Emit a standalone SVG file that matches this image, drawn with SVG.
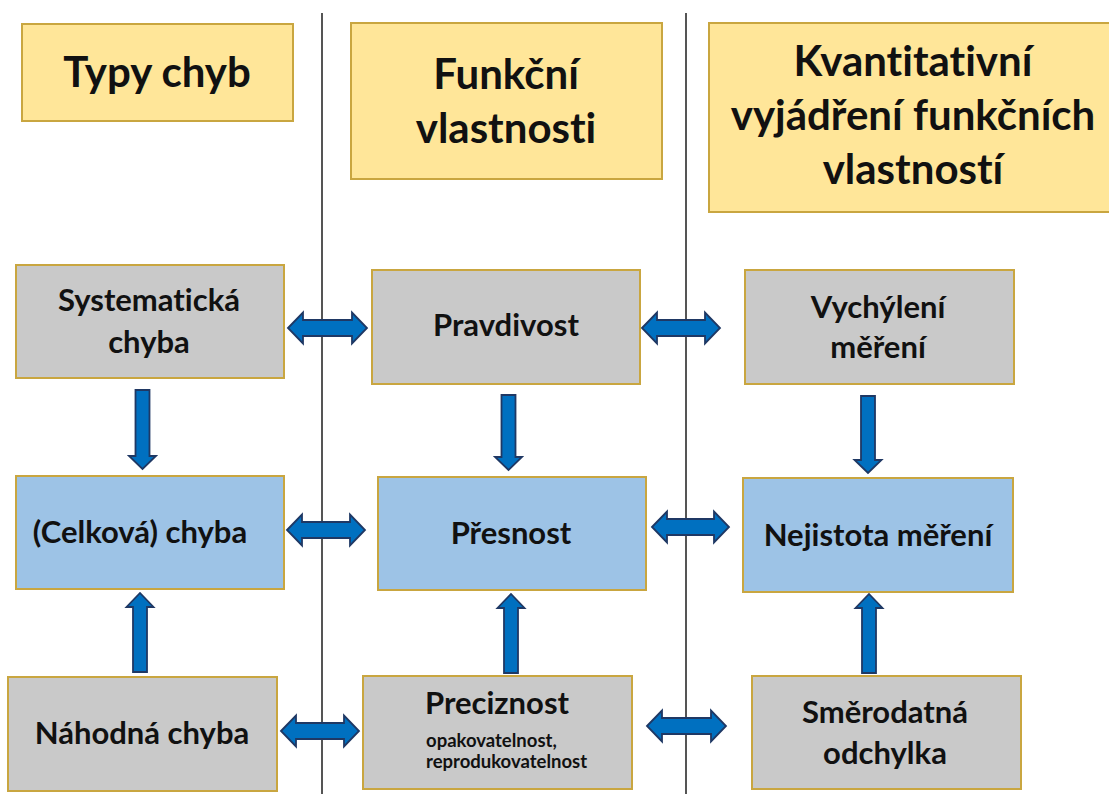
<svg xmlns="http://www.w3.org/2000/svg" width="1109" height="794" viewBox="0 0 1109 794">
<style>
.hdr{fill:#FFE699;stroke:#C9A640;stroke-width:2}
.gry{fill:#C9C9C9;stroke:#C9A640;stroke-width:2}
.blu{fill:#9DC3E6;stroke:#C9A640;stroke-width:2}
text{font-family:Lato,"Open Sans","Liberation Sans",sans-serif;font-weight:700;fill:#111;text-anchor:middle;font-variant-ligatures:none;font-feature-settings:"liga" 0,"dlig" 0}
.h{font-size:42px}
.n{font-size:31px}
.s{font-size:18.5px;text-anchor:start}
.arr{fill:#0070C0;stroke:#1F3864;stroke-width:1.8;stroke-linejoin:miter}
.sep{stroke:#555;stroke-width:2}
</style>
<rect width="1109" height="794" fill="#fff"/>
<g id="separators">
<line class="sep" x1="322" y1="13" x2="322" y2="794"/>
<line class="sep" x1="686" y1="13" x2="686" y2="794"/>
</g>
<g id="hdr-typy"><rect class="hdr" x="22" y="24" width="271" height="97"/><text class="h" x="157" y="87">Typy chyb</text></g>
<g id="hdr-funkcni"><rect class="hdr" x="351" y="23" width="311" height="156"/><text class="h" x="506" y="89">Funkční</text><text class="h" x="506" y="143">vlastnosti</text></g>
<g id="hdr-kvant"><rect class="hdr" x="709" y="23" width="410" height="189"/><text class="h" x="913" y="76">Kvantitativní</text><text class="h" x="913" y="130">vyjádření funkčních</text><text class="h" x="913" y="184">vlastností</text></g>

<g id="systematicka"><rect class="gry" x="16" y="265" width="268" height="113"/><text class="n" x="149" y="311">Systematická</text><text class="n" x="149" y="353">chyba</text></g>
<g id="pravdivost"><rect class="gry" x="372" y="270" width="268" height="114"/><text class="n" x="506" y="336">Pravdivost</text></g>
<g id="vychyleni"><rect class="gry" x="745" y="270" width="269" height="114"/><text class="n" x="878" y="318">Vychýlení</text><text class="n" x="878" y="358">měření</text></g>

<g id="celkova"><rect class="blu" x="16" y="476" width="268" height="113"/><text class="n" x="140" y="543">(Celková) chyba</text></g>
<g id="presnost"><rect class="blu" x="378" y="477" width="268" height="113"/><text class="n" x="511" y="544">Přesnost</text></g>
<g id="nejistota"><rect class="blu" x="743" y="478" width="270" height="114"/><text class="n" x="878" y="546">Nejistota měření</text></g>

<g id="nahodna"><rect class="gry" x="8" y="677" width="269" height="114"/><text class="n" x="142" y="744">Náhodná chyba</text></g>
<g id="preciznost"><rect class="gry" x="363" y="676" width="269" height="113"/><text class="n" x="497" y="714">Preciznost</text><text class="s" x="426" y="747">opakovatelnost,</text><text class="s" x="426" y="768">reprodukovatelnost</text></g>
<g id="smerodatna"><rect class="gry" x="752" y="676" width="269" height="113"/><text class="n" x="885" y="723">Směrodatná</text><text class="n" x="885" y="764">odchylka</text></g>

<g id="connectors">
<path class="arr" d="M288 328 L303 312.5 L303 320 L352 320 L352 312.5 L367 328 L352 343.5 L352 336 L303 336 L303 343.5 Z"/>
<path class="arr" d="M642 328 L657 312.5 L657 320 L705 320 L705 312.5 L720 328 L705 343.5 L705 336 L657 336 L657 343.5 Z"/>
<path class="arr" d="M287 530 L302 514.5 L302 522 L350 522 L350 514.5 L365 530 L350 545.5 L350 538 L302 538 L302 545.5 Z"/>
<path class="arr" d="M652 527 L667 511.5 L667 519 L714 519 L714 511.5 L729 527 L714 542.5 L714 535 L667 535 L667 542.5 Z"/>
<path class="arr" d="M281 731 L296 715.5 L296 723 L344 723 L344 715.5 L359 731 L344 746.5 L344 739 L296 739 L296 746.5 Z"/>
<path class="arr" d="M647 726 L662 710.5 L662 718 L711 718 L711 710.5 L726 726 L711 741.5 L711 734 L662 734 L662 741.5 Z"/>

<path class="arr" d="M135.5 390 L149.5 390 L149.5 456 L156 456 L142.5 469 L129 456 L135.5 456 Z"/>
<path class="arr" d="M501.5 395 L515.5 395 L515.5 457 L522 457 L508.5 470 L495 457 L501.5 457 Z"/>
<path class="arr" d="M861 396 L875 396 L875 460 L881.5 460 L868 473 L854.5 460 L861 460 Z"/>

<path class="arr" d="M133 672 L147 672 L147 607 L153.5 607 L140 593 L126.5 607 L133 607 Z"/>
<path class="arr" d="M504 673 L518 673 L518 608 L524.5 608 L511 594 L497.5 608 L504 608 Z"/>
<path class="arr" d="M862 673 L876 673 L876 608 L882.5 608 L869 594 L855.5 608 L862 608 Z"/>
</g>
</svg>
